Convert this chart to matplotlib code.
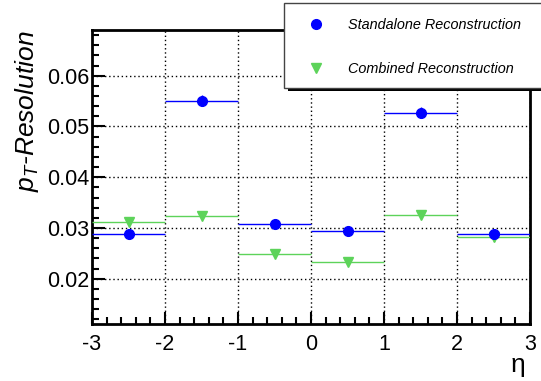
import numpy as np
import matplotlib.pyplot as plt
from matplotlib.patches import Rectangle
from matplotlib.ticker import MultipleLocator

plt.rcParams['font.family'] = ['Liberation Sans', 'DejaVu Sans']
plt.rcParams['mathtext.fontset'] = 'custom'
plt.rcParams['mathtext.it'] = 'Liberation Sans:italic'
plt.rcParams['mathtext.rm'] = 'Liberation Sans'

eta = [-2.5, -1.5, -0.5, 0.5, 1.5, 2.5]
halfwidth = [0.5, 0.5, 0.5, 0.5, 0.5, 0.5]
standalone = [0.0288, 0.0551, 0.0308, 0.0294, 0.0527, 0.0289]
standalone_err = [0.0004, 0.0011, 0.0004, 0.0003, 0.0011, 0.0004]
combined = [0.0312, 0.0324, 0.0249, 0.0233, 0.0326, 0.0282]
combined_err = [0.0003, 0.0003, 0.0003, 0.0003, 0.0003, 0.0008]

blue = '#0000ff'
green = '#5dd35a'

fig = plt.figure(figsize=(5.41, 3.81), dpi=100, facecolor='w')
ax = fig.add_axes([92/541, 1-324/381, 438/541, 294/381])

ax.errorbar(eta, standalone, xerr=halfwidth, yerr=standalone_err, fmt='o', color=blue,
            ms=7, elinewidth=1, capsize=0, zorder=4)
ax.errorbar(eta, combined, xerr=halfwidth, yerr=combined_err, fmt='v', color=green,
            ms=7, elinewidth=1, capsize=0, zorder=3)

ax.set_xlim(-3, 3)
ax.set_ylim(0.0111, 0.069)
ax.xaxis.set_minor_locator(MultipleLocator(0.2))
ax.yaxis.set_minor_locator(MultipleLocator(0.002))
ax.set_yticks([0.02, 0.03, 0.04, 0.05, 0.06])
ax.set_xticks([-3, -2, -1, 0, 1, 2, 3])
ax.set_xticklabels(['-3', '-2', '-1', '0', '1', '2', '3'])
ax.set_yticklabels(['0.02', '0.03', '0.04', '0.05', '0.06'])
ax.tick_params(which='both', direction='in', top=False, right=False, labelsize=15.5, width=1.5)
ax.tick_params(which='major', length=9)
ax.tick_params(axis='x', which='major', pad=7)
ax.tick_params(axis='y', which='major', pad=2)
ax.tick_params(which='minor', length=5)
ax.grid(True, which='major', color='black', linestyle=(0, (1, 2)), linewidth=1)
for s in ax.spines.values():
    s.set_linewidth(2)

ax.set_ylabel(r'$p_{T}$-Resolution', fontsize=19, style='italic', loc='top', labelpad=4)
ax.set_xlabel('η', fontsize=19, ha='right', va='top')
ax.xaxis.set_label_coords(0.99, -0.1)

# legend box with shadow
fig.patches.append(Rectangle((288/541, 1-91/381), 260/541, 4/381, transform=fig.transFigure,
                             facecolor='black', edgecolor='none', zorder=5))
fig.patches.append(Rectangle((284/541, 1-88/381), 260/541, 85/381, transform=fig.transFigure,
                             facecolor='white', edgecolor='#444444', linewidth=1, zorder=6))
fig.lines.append(plt.Line2D([316/541], [1-24/381], marker='o', color=blue, ms=7,
                            transform=fig.transFigure, zorder=7))
fig.lines.append(plt.Line2D([316/541], [1-68/381], marker='v', color=green, ms=7,
                            transform=fig.transFigure, zorder=7))
fig.text(348/541, 1-25/381, 'Standalone Reconstruction', style='italic', fontsize=10.4,
         va='center', zorder=8)
fig.text(348/541, 1-69/381, 'Combined Reconstruction', style='italic', fontsize=10.4,
         va='center', zorder=8)

plt.savefig('out.png', dpi=100)
